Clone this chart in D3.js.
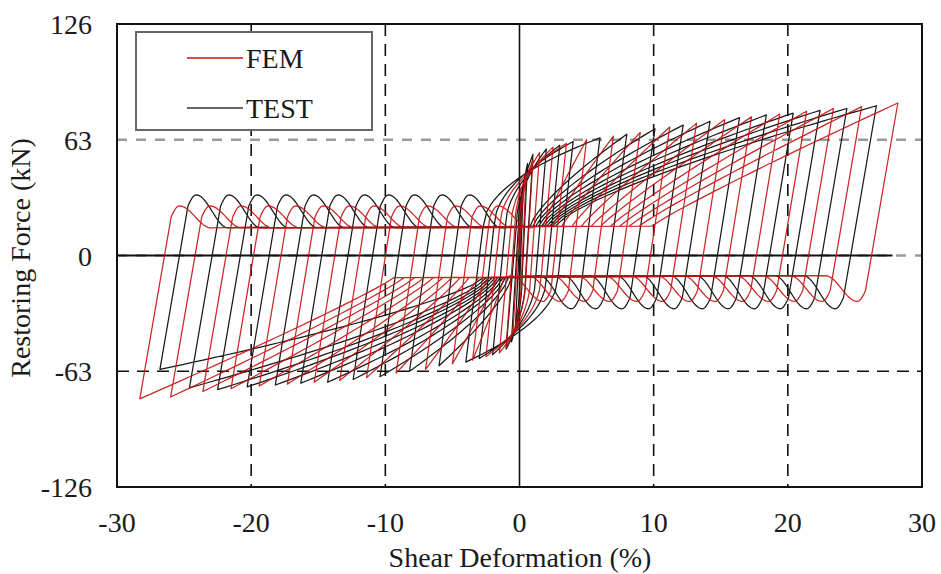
<!DOCTYPE html>
<html><head><meta charset="utf-8">
<script src="https://cdn.jsdelivr.net/npm/d3@7"></script>
<style>
html,body{margin:0;padding:0;background:#fff;}
svg text{font-family:"Liberation Serif","Times New Roman",serif;fill:#1a1a1a;}
</style></head>
<body><svg id="c" width="941" height="574"></svg>
<script>
// ---- data ----
const xTicks = [-30, -20, -10, 0, 10, 20, 30];
const yTicks = [-126, -63, 0, 63, 126];
const seriesNames = ["FEM", "TEST"];

// cycle peaks: displacement (%) and force (kN)
const testPosX = [0.3, 0.6, 1.0, 2.0, 3.0, 4.0, 6.0, 8.0, 10.1, 12.2, 14.2, 16.4, 18.4, 20.4, 22.4, 24.4, 26.6];
const testPosF = [40, 50, 55, 58, 60, 62, 64, 66, 69, 71, 73, 75, 76.5, 77.5, 79, 80, 81.5];
const testNegX = [-0.3, -0.6, -1.0, -2.0, -3.0, -4.0, -6.0, -8.2, -10.4, -12.4, -14.3, -16.3, -18.2, -20.3, -22.5, -24.6, -26.8];
const testNegF = [-38, -47, -51, -54, -56, -58, -60, -63, -66, -67.5, -69, -69.5, -70.5, -71.5, -73, -72, -62];

const femPosX = [0.5, 1.0, 1.5, 2.5, 3.5, 5.0, 7.0, 9.0, 11.2, 13.2, 15.3, 17.3, 19.4, 21.4, 23.4, 25.5, 28.2];
const femPosF = [45, 52, 56, 59, 61, 63, 65, 67, 70, 72, 74, 75.5, 77, 78.5, 80, 81, 83];
const femNegX = [-0.5, -1.0, -1.5, -2.5, -3.5, -5.0, -7.0, -9.2, -11.4, -13.4, -15.3, -17.3, -19.4, -21.5, -23.6, -26.0, -28.3];
const femNegF = [-43, -50, -53, -55, -57, -59, -62, -64, -66.5, -68, -69, -70, -71, -72.5, -74, -77, -78];

// pinching levels (kN): reload hump and slip plateau
const testHump = [33, 29];   // [after negative peak, after positive peak]
const testSlip = [15, 11];
const femHump = [27, 25];
const femSlip = [15, 11];

// ---- chart ----
const svg = d3.select("#c");
const x = d3.scaleLinear().domain([-30, 30]).range([117, 922]);
const y = d3.scaleLinear().domain([-126, 126]).range([487, 24]);

// grid
const g = svg.append("g");
g.append("line").attr("x1", x(-30)).attr("x2", x(30)).attr("y1", y(63)).attr("y2", y(63))
  .attr("stroke", "#9a9a9a").attr("stroke-width", 2.5).attr("stroke-dasharray", "10,9");
g.append("line").attr("x1", x(-30)).attr("x2", x(30)).attr("y1", y(0)).attr("y2", y(0))
  .attr("stroke", "#9a9a9a").attr("stroke-width", 2.5).attr("stroke-dasharray", "10,9");
g.append("line").attr("x1", x(-30)).attr("x2", x(27.8)).attr("y1", y(0)).attr("y2", y(0))
  .attr("stroke", "#111").attr("stroke-width", 2.2);
g.append("line").attr("x1", x(-30)).attr("x2", x(30)).attr("y1", y(-63)).attr("y2", y(-63))
  .attr("stroke", "#111").attr("stroke-width", 1.6).attr("stroke-dasharray", "12,8");
[-20, -10, 10, 20].forEach(v => {
  g.append("line").attr("x1", x(v)).attr("x2", x(v)).attr("y1", y(126)).attr("y2", y(-126))
    .attr("stroke", "#111").attr("stroke-width", 1.6).attr("stroke-dasharray", "12,8");
});
g.append("line").attr("x1", x(0)).attr("x2", x(0)).attr("y1", y(126)).attr("y2", y(-126))
  .attr("stroke", "#111").attr("stroke-width", 1.6);

// loop builder
function branch(xa, Fa, xb, Fb, hump, slip, frac, ex) {
  const out = [];
  const A = Math.abs(xb);
  const K = 38 + 250 / (1 + 2 * A);
  const x0 = frac * xb;
  const xu = xa + (hump - 6 - Fa) / K;
  const sw = 3;
  if (xu + sw < x0 - 0.3) {
    out.push([xu, hump - 6]);
    for (let i = 1; i <= 24; i++) {
      const t = i / 24, xx = xu + t * sw;
      let F;
      if (t <= 0.2) F = hump - 6 + 6 * Math.sin(t / 0.2 * Math.PI / 2);
      else F = slip + (hump - slip) * Math.pow(Math.cos((t - 0.2) / 0.8 * Math.PI / 2), 2);
      out.push([xx, F]);
    }
    const F0 = slip + 1;
    out.push([x0, F0]);
    for (let i = 1; i <= 30; i++) {
      const s = i / 30;
      out.push([x0 + s * (xb - x0), F0 + (Fb - F0) * Math.pow(s, ex)]);
    }
  } else {
    let xm = xa + (slip - Fa) / K;
    xm = Math.min(xm, xa + 0.6 * (xb - xa));
    const Fm = Fa + K * (xm - xa);
    out.push([xm, Fm]);
    for (let i = 1; i <= 30; i++) {
      const s = i / 30;
      out.push([xm + s * (xb - xm), Fm + (Fb - Fm) * Math.pow(s, 0.5)]);
    }
  }
  return out;
}
function tail(xa, Fa, hump, slip) {
  const K = 38 + 250 / (1 + 2 * Math.abs(xa));
  const xu = xa + (hump - 6 - Fa) / K, sw = 3, out = [[xu, hump - 6]];
  for (let i = 1; i <= 24; i++) {
    const t = i / 24, xx = xu + t * sw;
    let F;
    if (t <= 0.2) F = hump - 6 + 6 * Math.sin(t / 0.2 * Math.PI / 2);
    else F = slip + (hump - slip) * Math.pow(Math.cos((t - 0.2) / 0.8 * Math.PI / 2), 2);
    out.push([xx, F]);
  }
  out.push([xu + sw + 3, slip + 0.5]);
  return out;
}
function loop(px, pf, nx, nf, hump, slip, fracP, fracN, ex) {
  let pts = [[0, 0]];
  for (let i = 1; i <= 10; i++) { const s = i / 10; pts.push([px[0] * s, pf[0] * Math.pow(s, 0.6)]); }
  for (let c = 0; c < px.length; c++) {
    if (c > 0) pts = pts.concat(branch(nx[c - 1], nf[c - 1], px[c], pf[c], hump[0], slip[0], fracP, ex));
    const down = branch(-px[c], -pf[c], -nx[c], -nf[c], hump[1], slip[1], fracN, ex).map(p => [-p[0], -p[1]]);
    pts = pts.concat(down);
  }
  const last = px.length - 1;
  pts = pts.concat(tail(nx[last], nf[last], hump[0], slip[0]));
  return pts;
}

const line = d3.line().x(d => x(d[0])).y(d => y(d[1]));
const testPts = loop(testPosX, testPosF, testNegX, testNegF, testHump, testSlip, 0.1, 0.1, 0.75);
const femPts = loop(femPosX, femPosF, femNegX, femNegF, femHump, femSlip, 0.35, 0.33, 0.92);

svg.append("defs").append("clipPath").attr("id", "clip").append("rect")
  .attr("x", 117).attr("y", 24).attr("width", 805).attr("height", 463);
const data = svg.append("g").attr("clip-path", "url(#clip)");
data.append("path").attr("d", line(testPts)).attr("fill", "none")
  .attr("stroke", "#1a1a1a").attr("stroke-width", 1.25).attr("stroke-linejoin", "round");
data.append("path").attr("d", line(femPts)).attr("fill", "none")
  .attr("stroke", "#c40f0f").attr("stroke-width", 1.25).attr("stroke-linejoin", "round").attr("opacity", 0.9);

// frame
svg.append("rect").attr("x", 117).attr("y", 24).attr("width", 805).attr("height", 463)
  .attr("fill", "none").attr("stroke", "#111").attr("stroke-width", 2);

// ticks labels
svg.append("g").selectAll("text").data(xTicks).join("text")
  .attr("x", d => x(d)).attr("y", 532).attr("text-anchor", "middle")
  .attr("font-size", 28).text(d => d);
svg.append("g").selectAll("text").data(yTicks).join("text")
  .attr("x", 92).attr("y", d => y(d) + 10).attr("text-anchor", "end")
  .attr("font-size", 28).text(d => d);

// axis titles
svg.append("text").attr("x", 520).attr("y", 567).attr("text-anchor", "middle")
  .attr("font-size", 28).text("Shear Deformation (%)");
svg.append("text").attr("transform", "translate(30,258) rotate(-90)").attr("text-anchor", "middle")
  .attr("font-size", 28).text("Restoring Force (kN)");

// legend
const lg = svg.append("g");
lg.append("rect").attr("x", 136).attr("y", 32).attr("width", 236).attr("height", 98)
  .attr("fill", "#fff").attr("stroke", "#666").attr("stroke-width", 2);
const legColors = ["#c40f0f", "#333"];
seriesNames.forEach((s, i) => {
  const yy = 58 + i * 50;
  lg.append("line").attr("x1", 187).attr("x2", 243).attr("y1", yy).attr("y2", yy)
    .attr("stroke", legColors[i]).attr("stroke-width", 1.6);
  lg.append("text").attr("x", 246).attr("y", yy + 10).attr("font-size", 28).text(s);
});
</script></body></html>
